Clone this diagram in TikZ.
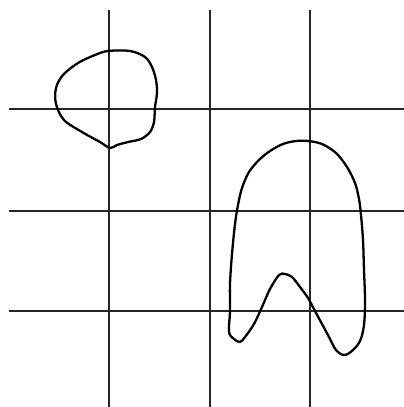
\documentclass[tikz,border=0pt]{standalone}
\begin{document}
\begin{tikzpicture}[x=1pt,y=-1pt,
  gridline/.style={line width=1.3pt,draw=black!85},
  outline/.style={line width=2.3pt,draw=black,line join=round}]
\useasboundingbox[fill=white] (0,0) rectangle (404,407);
% grid
\foreach \v in {109,210,310}{
  \draw[gridline] (\v,10) -- (\v,407);
}
\foreach \h in {109,211,311}{
  \draw[gridline] (9,\h) -- (404,\h);
}
% top-left blob
\draw[outline] plot[smooth cycle,tension=0.55] coordinates {
  (108,51) (130,51) (145,57) (152,67) (156,80) (157,93) (155,107) (154,122)
  (150,132) (141,139) (128,142) (117,145) (110,148) (100,142) (82,132)
  (64,120) (56,104) (56,88) (63,75) (78,63) (95,55)};
% right arch shape
\draw[outline] plot[smooth cycle,tension=0.55] coordinates {
  (308,141) (322,144) (336,153) (347,167) (355,183) (359,199) (361,215)
  (363,240) (364,270) (365,300) (364,325) (360,341) (352,351) (344,355)
  (336,350) (329,337) (322,324) (315,311) (308,298) (300,287) (292,277)
  (285,274) (279,275) (270,289) (262,307) (254,324) (245,337) (240,342)
  (234,339) (229,332) (230,311) (230,284) (232,254) (235,224) (238,205)
  (242,188) (249,172) (259,160) (270,151) (283,144) (296,141)};
\end{tikzpicture}
\end{document}
